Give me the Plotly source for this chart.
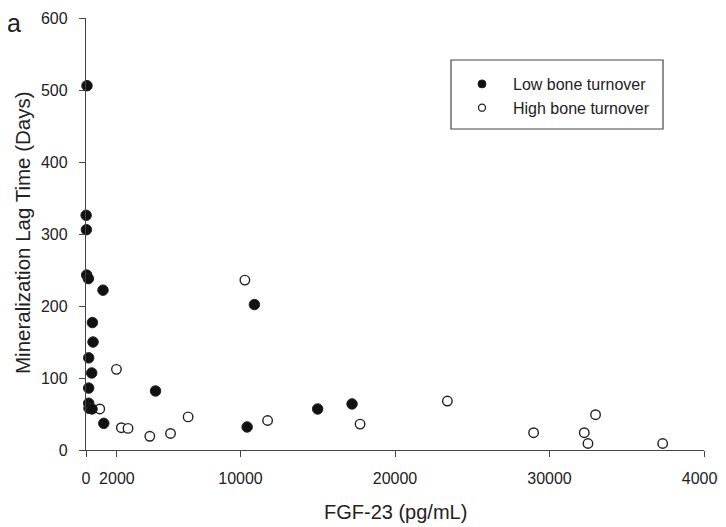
import plotly.graph_objects as go

# Low bone turnover (filled)
low_x = [65, 10, 26, 45, 155, 1100, 415, 455, 175, 370, 175, 175, 195, 390, 1150, 4500, 10900, 10430, 14995, 17220]
low_y = [506, 326, 306, 243, 238, 222, 177, 150, 128, 107, 86, 65, 58, 57, 37, 82, 202, 32, 57, 64]

# High bone turnover (open)
high_x = [890, 1970, 2290, 2720, 4130, 5470, 6610, 10285, 11755, 17740, 23390, 28970, 32250, 32490, 32980, 37325]
high_y = [57, 112, 31, 30, 19, 23, 46, 236, 41, 36, 68, 24, 24, 9, 49, 9]

x_ticks = [0, 2000, 10000, 20000, 30000, 40000]
y_ticks = [0, 100, 200, 300, 400, 500, 600]

FONT = "Liberation Sans, Arial, sans-serif"
INK = "#222222"
AX = "#444444"

# the page body has an 8px margin; size the figure so it fills the 726x527 window
OFF = 8
W, H = 726 - OFF, 527 - OFF
ML, MT = 86 - OFF, 18 - OFF
MR, MB = 22, 77
PW, PH = W - ML - MR, H - MT - MB


def px(xw):
    """window pixel x -> paper coordinate"""
    return (xw - OFF - ML) / PW


def py(yw):
    """window pixel y -> paper coordinate"""
    return (H - MB - (yw - OFF)) / PH


fig = go.Figure()
fig.add_trace(go.Scatter(
    x=high_x, y=high_y, mode="markers", showlegend=False, cliponaxis=False,
    marker=dict(size=9.5, color="white", line=dict(color=INK, width=1.4)),
))
fig.add_trace(go.Scatter(
    x=low_x, y=low_y, mode="markers", showlegend=False, cliponaxis=False,
    marker=dict(size=10.5, color="#111111", line=dict(color=INK, width=1)),
))
# legend-only entries
fig.add_trace(go.Scatter(
    x=[None], y=[None], mode="markers", name="Low bone turnover",
    marker=dict(size=8, color="#111111", line=dict(color=INK, width=1)),
))
fig.add_trace(go.Scatter(
    x=[None], y=[None], mode="markers", name="High bone turnover",
    marker=dict(size=7, color="white", line=dict(color=INK, width=1.3)),
))

fig.update_layout(
    width=W, height=H,
    margin=dict(l=ML, r=MR, t=MT, b=MB, pad=0, autoexpand=False),
    paper_bgcolor="white", plot_bgcolor="white",
    font=dict(family=FONT, color=INK, size=16),
    legend=dict(
        x=px(451), y=py(67), xanchor="left", yanchor="top",
        bgcolor="rgba(0,0,0,0)", borderwidth=0, itemwidth=52,
        font=dict(size=16, family=FONT, color=INK),
        tracegroupgap=0,
    ),
    xaxis=dict(
        range=[0, 40000], tickvals=x_ticks, ticktext=[str(v) for v in x_ticks],
        showline=True, linecolor=AX, linewidth=1.3, ticks="outside", ticklen=6,
        tickcolor=AX, tickwidth=1.3, showgrid=False, zeroline=False, automargin=False,
        tickfont=dict(size=16, family=FONT, color=INK), ticklabelstandoff=8,
        ticklabeloverflow="allow",
    ),
    yaxis=dict(
        range=[0, 600], tickvals=y_ticks,
        showline=True, linecolor=AX, linewidth=1.3, ticks="outside", ticklen=6,
        tickcolor=AX, tickwidth=1.3, showgrid=False, zeroline=False, automargin=False,
        tickfont=dict(size=16, family=FONT, color=INK), ticklabelstandoff=8,
    ),
    shapes=[dict(
        type="rect", xref="paper", yref="paper",
        x0=px(451), x1=px(663), y0=py(129), y1=py(60),
        line=dict(color=AX, width=1.2), fillcolor="rgba(0,0,0,0)",
    )],
    annotations=[
        dict(text="Mineralization Lag Time (Days)", xref="paper", yref="paper",
             x=px(22), y=py(233), textangle=-90, showarrow=False,
             xanchor="center", yanchor="middle",
             font=dict(size=20.5, family=FONT, color=INK)),
        dict(text="FGF-23 (pg/mL)", xref="paper", yref="paper",
             x=px(395), y=py(512), showarrow=False,
             xanchor="center", yanchor="middle",
             font=dict(size=20, family=FONT, color=INK)),
        dict(text="a", xref="paper", yref="paper",
             x=px(14), y=py(23), showarrow=False,
             xanchor="center", yanchor="middle",
             font=dict(size=25, family=FONT, color=INK)),
    ],
)

fig.write_html("out.html")
